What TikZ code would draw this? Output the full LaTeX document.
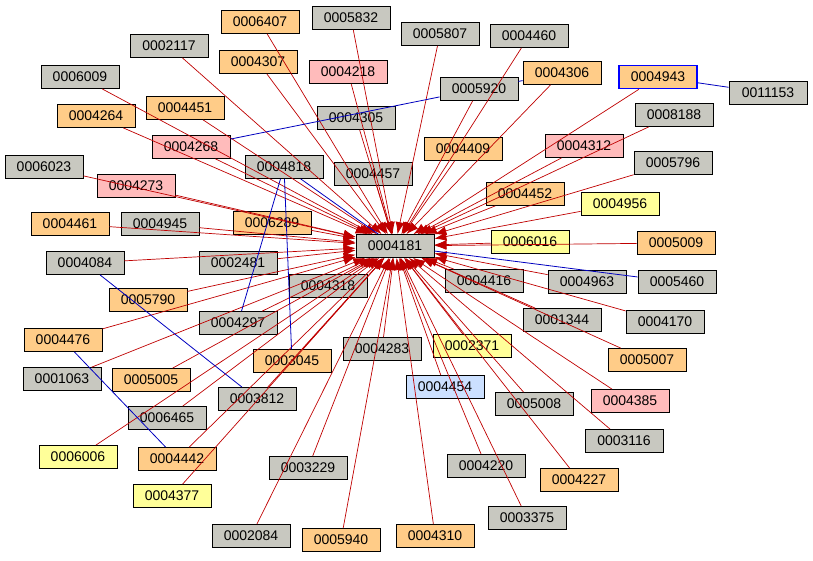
\documentclass[tikz,border=0pt]{standalone}
\usepackage{fontspec}
\setmainfont{Liberation Sans}
\usetikzlibrary{arrows.meta}
\definecolor{cg}{RGB}{200,200,192}
\definecolor{co}{RGB}{255,204,136}
\definecolor{cp}{RGB}{255,187,187}
\definecolor{cy}{RGB}{255,255,153}
\definecolor{cb}{RGB}{204,224,255}
\definecolor{ered}{RGB}{192,0,0}
\definecolor{eblue}{RGB}{0,0,192}
\begin{document}
\begin{tikzpicture}[x=1pt,y=-1pt,
 nd/.style={draw=black,line width=0.8pt,minimum width=78pt,minimum height=23pt,inner sep=1pt,font=\fontsize{14}{16}\selectfont},
 g/.style={nd,fill=cg},o/.style={nd,fill=co},p/.style={nd,fill=cp},yy/.style={nd,fill=cy},lb/.style={nd,fill=cb},
 re/.style={draw=ered,line width=0.7pt,-{Latex[length=12pt,width=9pt]}},
 be/.style={draw=eblue,line width=0.8pt}]
\fill[white] (0,0) rectangle (813,560);
\useasboundingbox (0,0) rectangle (813,560);
\foreach \n/\x/\y/\s in {
0005832/351/18/g,0006407/260/22/o,0002117/169/46/g,0005807/440/34/g,0004460/529/36/g,
0004307/258/62/o,0004218/348/72/p,0006009/80/77/g,0004306/562/73/o,0011153/768/93/g,
0005920/479/89/g,0004451/185/108/o,0004264/96/116/o,0004305/356/118/g,0008188/674/115/g,
0004268/191/147/p,0004409/463/149/o,0004312/584/146/p,0004818/284/167/g,0004457/373/174/g,
0006023/44/167/g,0005796/673/163/g,0004273/136/186/p,0004452/525/194/o,0004956/620/204/yy,
0004461/70/224/o,0004945/160/224/g,0006289/272/223/o,0006016/530/242/yy,0005009/676/243/o,
0004084/85/263/g,0002481/238/263/g,0004416/484/281/g,0004963/587/282/g,0005460/677/282/g,
0004318/328/286/g,0005790/148/300/o,0004297/238/323/g,0001344/562/320/g,0004170/665/322/g,
0004476/63/340/o,0002371/472/346/yy,0004283/382/349/g,0003045/292/361/o,0005007/647/360/o,
0001063/62/379/g,0005005/151/380/o,0004454/445/387/lb,0003812/257/399/g,0005008/534/404/g,
0004385/630/401/p,0006465/167/418/g,0003116/624/441/g,0006006/78/457/yy,0004442/177/459/o,
0004220/486/466/g,0003229/308/468/g,0004227/579/480/o,0004377/172/496/yy,0003375/527/518/g,
0002084/251/536/g,0005940/341/540/o,0004310/435/536/o}
{\node[\s] (n\n) at (\x,\y) {\n};}
\node[o,draw=blue,line width=1.6pt] (n0004943) at (658,77) {0004943};
\node[g] (n0004181) at (395,246) {0004181};
\begin{scope}[on background layer/.try]
\foreach \n in {0005832,0006407,0002117,0005807,0004460,0004307,0004218,0006009,0004306,0004943,
0005920,0004451,0004264,0004305,0008188,0004268,0004409,0004312,0004457,0006023,0005796,
0004273,0004452,0004956,0004461,0004945,0006289,0006016,0005009,0004084,0002481,0004416,
0004963,0004318,0005790,0004297,0001344,0004170,0004476,0002371,0004283,0003045,0005007,
0001063,0005005,0004454,0003812,0005008,0004385,0006465,0003116,0006006,0004442,0004220,
0003229,0004227,0004377,0003375,0002084,0005940,0004310}
{\draw[re] (n\n) -- (n0004181);}
\draw[be] (n0004268) -- (n0005920);
\draw[be] (n0005920) -- (n0004306);
\draw[be] (n0004943) -- (n0011153);
\draw[be] (n0004818) -- (n0004181);
\draw[be] (n0004818) -- (n0004297);
\draw[be] (n0004818) -- (n0003045);
\draw[be] (n0004181) -- (n0005460);
\draw[be] (n0004084) -- (n0003812);
\draw[be] (n0004476) -- (n0004442);
\end{scope}
\end{tikzpicture}
\end{document}
